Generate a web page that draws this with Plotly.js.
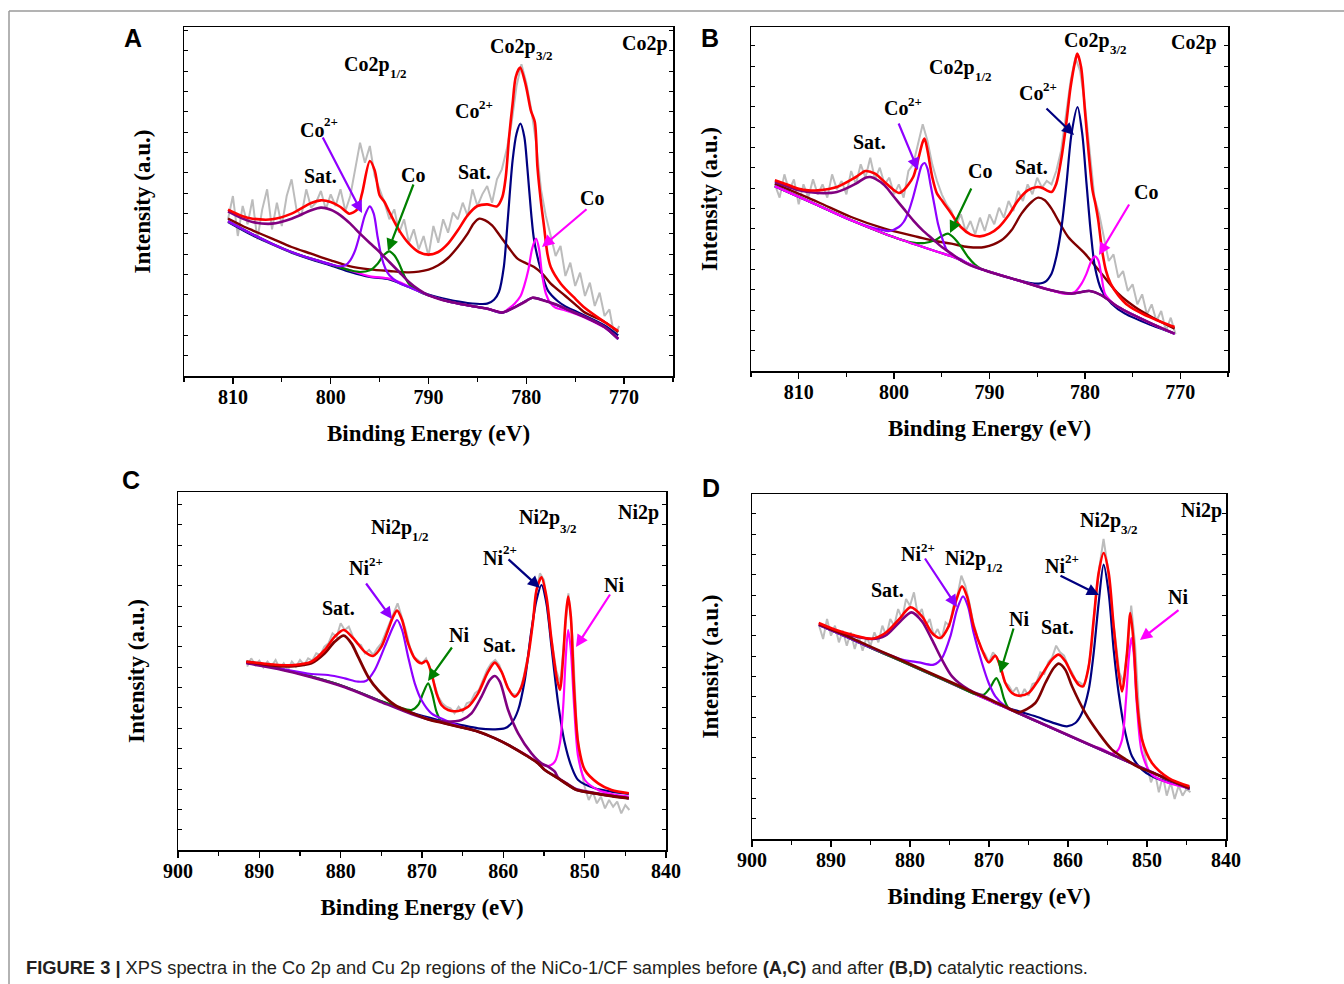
<!DOCTYPE html>
<html>
<head>
<meta charset="utf-8">
<script src="https://cdn.plot.ly/plotly-3.0.1.min.js"></script>
<style>html,body{margin:0;padding:0;background:#fff;}#chart{width:1344px;height:984px;}</style>
</head>
<body>
<div id="chart"></div>
<script>
// ---------------- DATA (binding energy in eV, intensity in a.u.) ----------------
// Panel A : Co2p, before reaction
const A_E_raw = [810.5,810,809.5,809,808.5,808,807.5,807,806.5,806,805.5,805,804.5,804,803.5,803,802.5,802,801.5,801,800.5,800,799.5,799,798.5,798,797.5,797,796.5,796,795.5,795,794.5,794,793.5,793,792.5,792,791.5,791,790.5,790,789.5,789,788.5,788,787.5,787,786.5,786,785.5,785,784.5,784,783.5,783,782.5,782,781.5,781,780.5,780,779.5,779,778.5,778,777.5,777,776.5,776,775.5,775,774.5,774,773.5,773,772.5,772,771.5,771,770.5];
const A_I_raw = [470,540,420,510,455,530,410,500,560,440,520,450,540,590,500,480,560,505,520,555,500,545,510,560,495,540,620,700,640,690,600,560,520,470,500,430,470,400,440,380,420,360,450,400,470,430,490,470,520,480,560,510,545,570,520,590,620,680,760,870,935,880,800,700,560,480,420,360,390,300,340,270,310,240,280,210,250,180,200,120,150];
const A_E_fit = [810.5,809,808,806,804,802,801,800,799,798.1,797.3,796.8,796,795.5,795,794.5,794,793,792,791,790,789,788,787,786,785,784,783,782.45,782.1,781.76,781.4,781.08,780.63,780.05,779.54,779.13,778.86,778.52,778.18,777.84,777.5,776.47,775,774,772,770.6];
const A_I_fit = [499,479,472,470,487,519,527,522,507,487,499,547,645,617,542,522,492,437,397,372,364,372,397,437,482,510,515,509,537,597,717,817,897,925,872,797,762,627,527,447,367,327,277,232,204,162,135];
const A_E_sat1 = [810.5,809,808,806,804,802,801,800,799,798,797,796,795,794,793,792,791,790,789,788,786,784,783,782.5,782,781,780,779.4,778.5,777,776,775,774,772,770.6];
const A_I_sat1 = [494,472,462,457,472,497,505,499,482,457,427,399,372,342,312,282,259,242,232,224,212,202,194,190,195,209,225,235,229,215,202,189,177,147,112];
const A_E_co2a = [810.5,808,806,804,802,800,799,798.5,798,797.5,797,796.5,796,795.6,795.2,794.8,794.4,794,793,792,791,790,788,786,784,782.5,781,779.4,778,776,774,772,770.6];
const A_I_co2a = [464,425,397,372,352,335,329,332,347,377,427,482,509,487,417,357,322,302,279,267,254,242,224,212,202,190,209,234,225,202,177,147,110];
const A_E_co0a = [810.5,808,806,804,802,800,799,798,797,796,795.2,794.6,794,793.5,793,792.5,792,791,790,788,786,784,782.5,781,779.4,778,776,774,772,770.6];
const A_I_co0a = [464,425,397,372,352,335,325,317,312,317,337,362,374,362,337,302,277,254,242,224,212,202,190,209,234,225,202,177,147,110];
const A_E_sat2 = [810.5,809,808,806,804,802,800,798,796,794,792,791,790,789,788,787,786,785.4,784.8,784.2,783.5,782.6,781.8,780.9,780,779.2,778.3,777.5,776,775,774.1,772,770.6];
const A_I_sat2 = [472,450,437,412,387,367,347,329,320,315,311,313,319,332,354,387,427,457,472,467,452,417,385,352,338,327,305,277,240,215,192,162,132];
const A_E_co2b = [810.5,808,806,804,802,800,798,796,794,792,790,788,786,784,783.3,782.8,782.3,781.9,781.4,781,780.6,780.2,779.9,779.5,779.2,778.5,777.8,776.8,776,775,774,772,770.6];
const A_I_co2b = [462,422,395,370,350,332,312,297,290,267,244,229,219,217,229,252,327,467,647,727,757,717,627,487,407,317,257,225,209,195,181,152,122];
const A_E_co0b = [810.5,808,806,804,802,800,798,796,794,792,790,788,786,784,783,782.3,781.8,781.2,780.6,780.2,779.8,779.4,779,778.7,778.4,778,777.5,777,776,775,774,772,770.6];
const A_I_co0b = [464,425,397,372,352,335,317,299,292,269,242,224,212,202,194,192,202,217,239,272,317,382,412,382,307,247,217,205,197,187,175,145,112];

// Panel B : Co2p, after reaction
const B_E_raw = [812.5,812,811.5,811,810.5,810,809.5,809,808.5,808,807.5,807,806.5,806,805.5,805,804.5,804,803.5,803,802.5,802,801.5,801,800.5,800,799.5,799,798.5,798,797.5,797,796.5,796,795.5,795,794.5,794,793.5,793,792.5,792,791.5,791,790.5,790,789.5,789,788.5,788,787.5,787,786.5,786,785.5,785,784.5,784,783.5,783,782.5,782,781.5,781,780.5,780,779.5,779,778.5,778,777.5,777,776.5,776,775.5,775,774.5,774,773.5,773,772.5,772,771.5,771,770.5];
const B_I_raw = [560,520,590,540,575,500,560,520,575,530,560,520,590,545,570,530,600,560,620,580,640,575,610,560,580,530,560,520,600,620,680,740,690,620,570,530,500,480,440,470,420,450,410,460,420,470,440,490,460,510,480,540,510,560,530,580,550,570,560,600,660,760,870,940,900,800,650,520,470,400,330,350,280,300,240,260,200,230,170,200,150,180,120,160,110];
const B_E_fit = [812.5,811,810,809,808,806,804,803,802,801,800,799.5,799,798,797.5,797,796.8,796.5,796,795.5,795,794.5,794,793,792,791,790,789,788,787,786,785,784.5,784,783.5,783,782.5,782,781.5,781,780.8,780.4,780,779.6,779.2,778.9,778.6,778.2,777.8,777.3,776.5,775.5,774,772,770.6];
const B_I_fit = [572,557,547,542,542,552,582,600,592,567,542,534,542,582,632,687,697,662,582,532,512,492,472,432,410,404,412,432,467,512,542,552,550,542,537,562,632,732,852,932,952,912,782,652,542,502,452,362,302,262,227,197,172,147,132];
const B_E_sat1 = [812.5,811,810,808,806,804,803,802.5,802,801,800,799,798,797,796,795,794,793,792,791,790,787,783.5,781.4,779.5,778.25,776.5,773,770.6];
const B_I_sat1 = [567,552,542,534,537,562,580,582,577,557,522,487,452,422,397,372,352,332,317,307,297,272,242,232,240,227,192,142,112];
const B_E_co2a = [812.5,808,804.5,802.5,801.5,800.5,799.5,799,798.5,798,797.5,797.1,796.8,796.5,796.2,795.8,795.4,795,794.5,794,793,792,791,790.5,787,783.5,781.4,779.5,778.25,776.5,773,770.6];
const B_I_co2a = [554,497,452,432,425,420,432,447,477,522,577,617,624,607,562,502,442,402,364,350,335,318,306,302,272,242,232,240,227,192,142,112];
const B_E_co0a = [812.5,808,804.5,801,799,798.2,796.8,795.75,795.05,794.35,793.65,792.95,792.25,791.55,790.85,790,787,783.5,781.4,779.5,778.25,776.5,773,770.6];
const B_I_co0a = [554,497,452,412,392,386,384,392,404,412,397,372,342,320,306,298,272,242,232,240,227,192,142,112];
const B_E_sat2 = [812.5,808,804.5,801,797.5,795.75,794,792.25,790.5,788.75,787.7,786.65,785.6,784.9,784.2,783.5,782.8,781.75,780,778.25,776.5,774.75,773,770.6];
const B_I_sat2 = [562,507,462,427,402,390,382,372,372,392,422,472,507,520,512,487,452,402,352,292,232,192,162,127];
const B_E_co2b = [812.5,808,804.5,801,797.5,795.4,794,790.5,787,785.25,784.2,783.5,783,782.45,781.93,781.4,780.77,780.28,779.83,779.37,778.95,778.25,777.2,775.8,773,770.6];
const B_I_co2b = [554,497,452,412,377,357,344,302,272,262,267,292,342,432,562,712,792,712,562,412,312,242,202,172,137,112];
const B_E_co0b = [812.5,808,804.5,801,797.5,795.4,794,790.5,787,783.5,782.1,781.05,780.35,779.83,779.3,778.95,778.6,778.25,777.9,777.2,776.5,773,770.6];
const B_I_co0b = [554,497,452,412,377,357,344,302,272,242,232,237,262,292,332,344,332,282,232,207,192,142,112];

// Panels C and D : Ni2p (raw energy grid shared)
const N_E_raw = [891.5,891,890.5,890,889.5,889,888.5,888,887.5,887,886.5,886,885.5,885,884.5,884,883.5,883,882.5,882,881.5,881,880.5,880,879.5,879,878.5,878,877.5,877,876.5,876,875.5,875,874.5,874,873.5,873,872.5,872,871.5,871,870.5,870,869.5,869,868.5,868,867.5,867,866.5,866,865.5,865,864.5,864,863.5,863,862.5,862,861.5,861,860.5,860,859.5,859,858.5,858,857.5,857,856.5,856,855.5,855,854.5,854,853.5,853,852.5,852,851.5,851,850.5,850,849.5,849,848.5,848,847.5,847,846.5,846,845.5,845,844.5];
const C_I_raw = [550,575,555,568,548,565,552,570,545,560,540,565,550,570,555,575,568,590,585,610,620,650,640,680,660,670,640,620,615,590,600,585,605,620,650,680,715,740,700,660,610,580,570,560,575,545,500,460,440,430,425,410,430,415,440,445,470,480,510,540,560,570,555,525,490,470,465,475,520,580,660,770,830,810,700,620,540,500,640,770,640,380,250,190,150,175,140,160,125,150,130,145,110,135,120];
const C_E_fit = [891.6,889.75,887.7,885.65,883.6,881.96,880.73,879.62,878.27,877.04,876.01,874.99,874.17,873.55,873.06,872.45,871.71,870.89,870.07,869.45,868.84,868.22,867.61,866.79,865.56,864.33,863.1,861.87,861.05,860.23,859.41,858.59,857.77,856.95,856.33,855.92,855.31,854.7,854.08,853.46,853.05,852.64,852.32,852.03,851.7,851.29,850.8,849.98,848.34,846.7,844.57];
const C_I_fit = [565,560,555,555,565,600,640,660,630,595,582,610,660,700,718,690,620,575,560,567,530,470,435,420,417,430,470,535,562,535,485,460,490,580,690,780,818,760,630,520,480,580,700,760,700,480,320,240,200,180,170];
const C_E_sat1 = [891.6,887.7,885.65,883.6,881.96,880.73,879.62,878.68,877.86,876.63,875.4,873.35,871.3,869.25,867.2,865.15,863.1,861.05,859,856.95,855.72,854.9,853.26,852.03,851,848.75,846.7,844.57];
const C_I_sat1 = [565,552,552,560,590,625,643,620,580,520,480,435,412,392,380,368,355,335,310,280,260,240,215,195,180,170,162,155];
const C_E_ni2a = [891.6,887.7,883.6,881.55,879.5,877.86,876.84,875.81,874.58,873.55,873.06,872.45,871.71,870.89,870.07,868.84,867.2,865.15,863.1,861.05,859,856.95,855.72,854.9,853.26,852.03,851,848.75,846.7,844.57];
const C_I_ni2a = [562,545,528,525,515,505,508,540,610,670,690,660,580,500,450,410,390,370,355,335,310,280,260,240,215,195,180,170,162,155];
const C_E_ni0a = [891.6,887.7,883.6,879.5,875.4,871.3,870.48,869.87,869.25,868.76,868.22,867.61,867.2,865.15,863.1,861.05,859,856.95,855.72,854.9,853.26,852.03,851,848.75,846.7,844.57];
const C_I_ni0a = [562,545,520,490,450,420,435,470,500,470,415,385,380,368,355,335,310,280,260,240,215,195,180,170,162,155];
const C_E_sat2 = [891.6,887.7,883.6,879.5,875.4,871.3,868.84,867.2,865.15,863.92,862.69,861.67,861.05,860.43,859.41,858.18,856.54,855.31,854.49,853.67,853.26,852.03,851,848.75,846.7,844.57];
const C_I_sat2 = [560,543,518,488,448,408,390,385,390,410,460,510,522,505,420,350,290,260,250,235,217,197,182,171,163,156];
const C_E_ni2b = [891.6,887.7,883.6,879.5,875.4,871.3,868.02,865.15,863.1,861.05,859.82,859,858.18,857.36,856.54,855.92,855.31,854.7,854.08,853.26,852.44,851.62,850.8,848.75,846.7,844.57];
const C_I_ni2b = [562,545,520,490,450,412,390,375,365,362,365,380,420,510,660,750,795,740,610,440,320,250,210,185,175,168];
const C_E_ni0b = [891.6,887.7,883.6,879.5,875.4,871.3,868.84,867.2,865.15,863.1,861.05,859,856.95,855.72,854.49,853.67,853.05,852.64,852.32,852.03,851.7,851.29,850.8,849.98,848.34,846.7,844.57];
const C_I_ni0b = [562,545,520,490,450,410,390,380,368,355,335,310,282,262,252,265,320,430,580,660,600,430,280,210,180,168,160];

const D_I_raw = [640,600,660,610,640,590,625,580,620,570,610,565,605,580,620,590,640,610,660,640,690,660,720,700,740,670,690,640,660,610,630,600,650,640,700,730,790,760,710,650,610,570,555,530,560,545,510,470,460,440,455,425,450,430,465,470,500,495,530,545,580,560,550,520,500,475,470,460,500,580,720,820,900,820,700,590,500,470,560,700,580,380,280,220,170,200,140,190,130,170,120,160,130,150,140];
const D_E_fit = [891.56,889.45,887.34,884.81,883.12,881.43,879.96,878.48,877.22,876.16,875.11,874.26,873.42,872.78,871.94,870.89,870.04,869.2,868.57,867.93,867.09,866.24,864.98,863.71,862.03,861.18,860.34,859.49,858.65,858.1,857.38,856.75,856.12,855.49,854.85,854.22,853.59,853.16,852.53,852.11,851.69,851.27,850.63,849.37,847.26,844.64];
const D_I_fit = [648,628,613,601,618,658,695,668,618,603,638,708,758,728,638,568,530,550,518,468,438,430,438,478,538,553,533,493,463,458,518,658,798,858,798,638,498,443,558,678,588,418,298,228,183,158];
const D_E_sat1 = [891.56,889.45,887.34,884.81,883.12,881.43,879.83,878.48,877.22,875.95,874.68,872.57,870.46,868,866,864,862,860,858,856,854,852,850,848,846,844.6];
const D_I_sat1 = [643,623,610,600,610,648,680,653,598,538,488,448,426,396,375,354,333,312,291,270,249,228,207,186,165,151];
const D_E_ni2a = [891.5,888,884.81,883,881.01,878.9,877,875.95,874.89,874.05,873.29,872.66,871.94,870.89,870.04,869.2,867.93,866.24,864,862,860,858,856,854,852,850,848,846,844.6];
const D_I_ni2a = [642,606,573,556,538,530,523,543,608,688,728,698,618,528,468,428,398,378,353,332,311,290,269,248,227,206,185,164,150];
const D_E_ni0a = [891.5,888,885,882,880,878,876,874,872,870.67,869.83,869.41,869.07,868.57,868.06,867.51,866,864,862,860,858,856,854,852,850,848,846,844.6];
const D_I_ni0a = [642,606,574,543,522,501,480,459,437,433,455,473,483,460,418,392,374,353,332,311,290,269,248,227,206,185,164,150];
const D_E_sat2 = [891.5,888,885,882,880,878,876,874,872,870,868,866.24,864.14,862.87,861.81,861.18,860.34,859.49,857.81,856.12,854.43,852.74,851.05,849.37,847.26,844.64];
const D_I_sat2 = [645,609,577,546,525,504,483,462,440,419,398,380,408,468,513,526,508,458,378,318,268,240,215,200,178,153];
const D_E_ni2b = [891.5,888,885,882,880,876,872,870,868.35,866.24,864.14,862.03,860.13,859.07,858.23,857.38,856.75,856.12,855.49,854.85,854.22,853.59,852.74,851.9,850.63,849.37,847.26,844.64];
const D_I_ni2b = [642,606,574,543,522,480,437,416,399,383,368,350,338,348,378,448,558,708,823,738,568,438,318,248,208,188,170,156];
const D_E_ni0b = [891.5,888,885,882,880,876,872,868,864,860,857,855.7,854.43,853.8,853.16,852.66,852.32,851.98,851.69,851.27,850.63,849.37,847.26,844.64];
const D_I_ni0b = [642,606,574,543,522,480,437,395,353,311,280,270,256,263,298,418,538,603,558,398,258,193,168,152];

const xTicksA = [810,800,790,780,770];
const xTicksC = [900,890,880,870,860,850,840];

// ---------------- STYLE ----------------
const W = 1344, H = 984;
const COL = {raw:'#bcbcbc', fit:'#ff0000', navy:'#000080', violet:'#8f00ff', purple:'#800080', maroon:'#800000', magenta:'#ff00ff', green:'#008000'};
const SERIF = 'Liberation Serif, Times New Roman, serif';
const SANS = 'Liberation Sans, Arial, sans-serif';

function tr(x, y, color, width, ax, shape) {
  return {type:'scatter', mode:'lines', x:x, y:y, xaxis:'x'+ax, yaxis:'y'+ax,
    line:{color:color, width:width, shape:shape||'spline', smoothing:0.8}, hoverinfo:'skip', showlegend:false};
}

const traces = [];
function panel(ax, raw, comps, fit) {
  traces.push(tr(raw[0], raw[1], COL.raw, 2, ax, 'linear'));
  comps.forEach(c => traces.push(tr(c[0], c[1], c[2], c[3], ax)));
  traces.push(tr(fit[0], fit[1], COL.fit, 2.6, ax));
}
panel('', [A_E_raw, A_I_raw], [
  [A_E_sat2, A_I_sat2, COL.maroon, 2.4], [A_E_co2b, A_I_co2b, COL.navy, 2.2],
  [A_E_co0b, A_I_co0b, COL.magenta, 2.2], [A_E_co0a, A_I_co0a, COL.green, 2.2],
  [A_E_co2a, A_I_co2a, COL.violet, 2.2], [A_E_sat1, A_I_sat1, COL.purple, 2.6]], [A_E_fit, A_I_fit]);
panel('2', [B_E_raw, B_I_raw], [
  [B_E_sat2, B_I_sat2, COL.maroon, 2.4], [B_E_co2b, B_I_co2b, COL.navy, 2.2],
  [B_E_co0a, B_I_co0a, COL.green, 2.2], [B_E_co2a, B_I_co2a, COL.violet, 2.2],
  [B_E_co0b, B_I_co0b, COL.magenta, 2.2], [B_E_sat1, B_I_sat1, COL.purple, 2.6]], [B_E_fit, B_I_fit]);
panel('3', [N_E_raw, C_I_raw], [
  [C_E_ni2b, C_I_ni2b, COL.navy, 2.2], [C_E_ni0b, C_I_ni0b, COL.magenta, 2.2],
  [C_E_ni0a, C_I_ni0a, COL.green, 2.2], [C_E_ni2a, C_I_ni2a, COL.violet, 2.2],
  [C_E_sat2, C_I_sat2, COL.purple, 2.6], [C_E_sat1, C_I_sat1, COL.maroon, 2.8]], [C_E_fit, C_I_fit]);
panel('4', [N_E_raw, D_I_raw], [
  [D_E_ni2b, D_I_ni2b, COL.navy, 2.2], [D_E_ni0b, D_I_ni0b, COL.magenta, 2.2],
  [D_E_ni0a, D_I_ni0a, COL.green, 2.2], [D_E_ni2a, D_I_ni2a, COL.violet, 2.2],
  [D_E_sat1, D_I_sat1, COL.purple, 2.6], [D_E_sat2, D_I_sat2, COL.maroon, 2.6]], [D_E_fit, D_I_fit]);

function xax(px0, px1, range, ticks, anchor) {
  return {domain:[px0/W, px1/W], range:range, anchor:anchor, showgrid:false, zeroline:false,
    showline:true, linecolor:'#000', linewidth:1.5, mirror:true,
    ticks:'outside', ticklen:6, tickwidth:1.5, tickcolor:'#000', tickmode:'array', tickvals:ticks,
    ticklabelstandoff:-4,
    tickfont:{family:SERIF, size:20, color:'#000', weight:'bold'},
    minor:{ticks:'outside', ticklen:4, tickwidth:1.2, tickcolor:'#000', dtick:5, tick0:0},
    title:{text:'<b>Binding Energy (eV)</b>', font:{family:SERIF, size:23, color:'#000'}, standoff:18},
    automargin:false, fixedrange:true};
}
function yax(py0, py1, range, anchor) {
  return {domain:[1-py1/H, 1-py0/H], range:range, anchor:anchor, showgrid:false, zeroline:false,
    showline:true, linecolor:'#000', linewidth:1.5, mirror:'ticks',
    ticks:'inside', ticklen:4, tickwidth:1, tickcolor:'#000', tick0:0, dtick:61, showticklabels:false,
    title:{text:'<b>Intensity (a.u.)</b>', font:{family:SERIF, size:23, color:'#000'}, standoff:25},
    automargin:false, fixedrange:true};
}

const ann = [];
function lab(px, py, text, size, fam, xa) {
  ann.push({xref:'paper', yref:'paper', x:px/W, y:1-py/H, text:text, showarrow:false,
    xanchor:xa||'center', yanchor:'middle', borderpad:0, borderwidth:0,
    font:{family:fam||SERIF, size:size||20, color:'#000'}});
}
// base text ending at x = jx (vertical centre by), small index text starting at jx (vertical centre sy)
function idxLab(jx, by, base, idx, sy) {
  lab(jx, by, '<b>' + base + '</b>', 20, SERIF, 'right');
  lab(jx, sy, '<b>' + idx + '</b>', 13, SERIF, 'left');
}
function arr(x0, y0, x1, y1, color) {
  ann.push({xref:'paper', yref:'paper', x:x1/W, y:1-y1/H, ax:x0-x1, ay:y0-y1, axref:'pixel', ayref:'pixel',
    text:'', showarrow:true, arrowhead:2, arrowsize:1.1, arrowwidth:2.2, arrowcolor:color});
}
// panel letters
lab(133, 38, '<b>A</b>', 25, SANS); lab(710, 38, '<b>B</b>', 25, SANS);
lab(131, 480, '<b>C</b>', 25, SANS); lab(711, 488, '<b>D</b>', 25, SANS);
// A labels
lab(644.5, 43.5, '<b>Co2p</b>');
idxLab(536, 46, 'Co2p', '3/2', 55); idxLab(390, 64.5, 'Co2p', '1/2', 73);
idxLab(479, 111, 'Co', '2+', 104); idxLab(324, 130, 'Co', '2+', 121.5);
lab(320.5, 176, '<b>Sat.</b>'); lab(412.7, 175, '<b>Co</b>'); lab(474, 172, '<b>Sat.</b>'); lab(592, 198, '<b>Co</b>');
arr(322, 136, 362, 213, COL.violet); arr(414, 183, 388, 251, COL.green); arr(588, 208, 542, 247, COL.magenta);
// B labels
lab(1194, 42.5, '<b>Co2p</b>');
idxLab(1109.5, 41, 'Co2p', '3/2', 49.5); idxLab(975.5, 67.5, 'Co2p', '1/2', 76.5);
idxLab(1043, 93.5, 'Co', '2+', 86); idxLab(908, 108.5, 'Co', '2+', 102);
lab(869, 142, '<b>Sat.</b>'); lab(980, 171, '<b>Co</b>'); lab(1031, 167, '<b>Sat.</b>'); lab(1146, 192, '<b>Co</b>');
arr(898, 122, 918, 170, COL.violet); arr(972, 187, 950, 233, COL.green);
arr(1045, 107, 1074, 135, COL.navy); arr(1130, 203, 1099, 255, COL.magenta);
// C labels
lab(638, 512.5, '<b>Ni2p</b>');
idxLab(559.7, 517.5, 'Ni2p', '3/2', 528); idxLab(411.5, 527.5, 'Ni2p', '1/2', 536.5);
idxLab(503, 557.5, 'Ni', '2+', 549.5); idxLab(369, 568.3, 'Ni', '2+', 561);
lab(338, 607.5, '<b>Sat.</b>'); lab(458.7, 635, '<b>Ni</b>'); lab(499, 645, '<b>Sat.</b>'); lab(613.5, 585, '<b>Ni</b>');
arr(365, 582, 392, 619, COL.violet); arr(453, 646, 428, 681, COL.green);
arr(507, 558, 540, 588, COL.navy); arr(611, 593, 576, 647, COL.magenta);
// D labels
lab(1201.5, 510.5, '<b>Ni2p</b>');
idxLab(1121, 520.5, 'Ni2p', '3/2', 529.7); idxLab(985.5, 558, 'Ni2p', '1/2', 567.5);
idxLab(921, 554, 'Ni', '2+', 547.5); idxLab(1064.7, 565.5, 'Ni', '2+', 558.5);
lab(887.5, 590, '<b>Sat.</b>'); lab(1018.7, 619, '<b>Ni</b>'); lab(1057, 626.7, '<b>Sat.</b>'); lab(1178, 597, '<b>Ni</b>');
arr(924, 557, 957, 607, COL.violet); arr(1014, 627, 1000, 673, COL.green);
arr(1059, 575, 1099, 595, COL.navy); arr(1180, 609, 1140, 640, COL.magenta);
// caption
lab(26, 967, '<b>FIGURE 3 |</b> XPS spectra in the Co 2p and Cu 2p regions of the NiCo-1/CF samples before <b>(A,C)</b> and after <b>(B,D)</b> catalytic reactions.', 18.3, SANS, 'left');
ann[ann.length-1].font.color = '#231f20';

const layout = {
  width:W, height:H, margin:{l:0, r:0, t:0, b:0}, paper_bgcolor:'#fff', plot_bgcolor:'#fff', showlegend:false,
  xaxis: xax(184, 673, [815, 765], xTicksA, 'y'),
  yaxis: yax(27, 376, [0, 1047], 'x'),
  xaxis2: xax(751, 1228, [815, 765], xTicksA, 'y2'),
  yaxis2: yax(27, 371, [0, 1032], 'x2'),
  xaxis3: xax(178, 666, [900, 840], xTicksC, 'y3'),
  yaxis3: yax(492, 850, [0, 1074], 'x3'),
  xaxis4: xax(752, 1226, [900, 840], xTicksC, 'y4'),
  yaxis4: yax(494, 839, [0, 1035], 'x4'),
  annotations: ann,
  shapes: [
    {type:'line', xref:'paper', yref:'paper', x0:9/W, x1:1, y0:1-11/H, y1:1-11/H, line:{color:'#9a9a9a', width:1.5}},
    {type:'line', xref:'paper', yref:'paper', x0:9/W, x1:9/W, y0:0, y1:1-11/H, line:{color:'#9a9a9a', width:1.5}}
  ]
};
Plotly.newPlot('chart', traces, layout, {staticPlot:true, displayModeBar:false});
</script>
</body>
</html>
